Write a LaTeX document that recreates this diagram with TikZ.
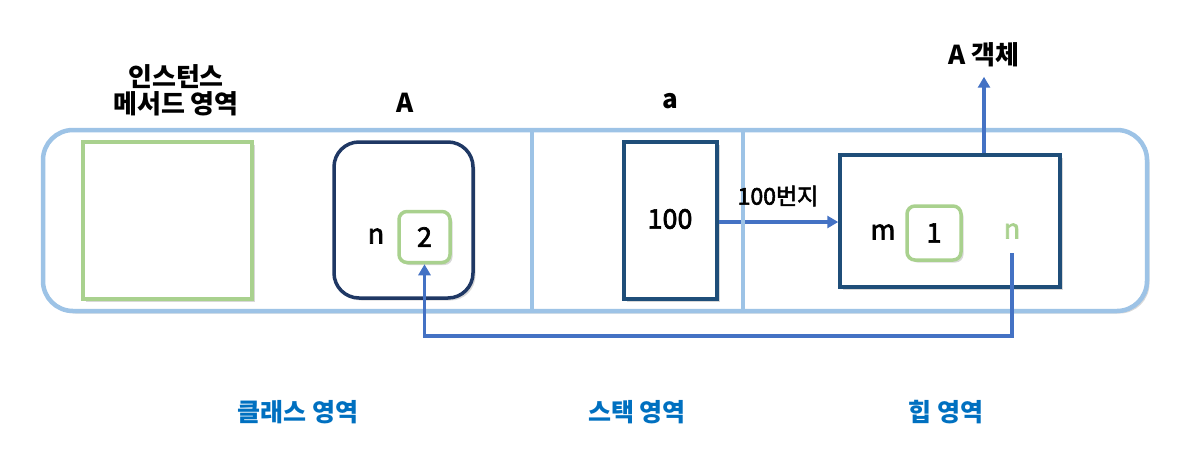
\documentclass[tikz,border=0pt]{standalone}
\usepackage{fontspec}
\setmainfont{Noto Sans CJK KR}
\newfontfamily\krmed[FakeBold=2.5]{Noto Sans CJK KR}
\usetikzlibrary{arrows.meta,shadows}
\definecolor{outerblue}{HTML}{9DC3E6}
\definecolor{softgreen}{HTML}{A9D18E}
\definecolor{navy}{HTML}{1F3864}
\definecolor{boxblue}{HTML}{1F4E79}
\definecolor{arrowblue}{HTML}{4472C4}
\definecolor{labelblue}{HTML}{0070C0}
\tikzset{
  shad/.style={drop shadow={opacity=0.3,shadow xshift=2.5pt,shadow yshift=-2.5pt}},
  areabox/.style={draw=outerblue,line width=4.5pt,fill=white,rounded corners=30pt,shad},
  divider/.style={draw=outerblue,line width=4.5pt},
  greenbox/.style={draw=softgreen,line width=3.5pt,fill=white,shad},
  valbox/.style={draw=softgreen,line width=3.5pt,fill=white,rounded corners=8pt,shad,
    minimum width=51pt,minimum height=51pt,font=\krmed\fontsize{27}{30}\selectfont},
  classbox/.style={draw=navy,line width=3.5pt,fill=white,rounded corners=25pt,shad},
  memobox/.style={draw=boxblue,line width=3.5pt,fill=white,shad},
  conn/.style={draw=arrowblue,line width=3.5pt,-{Triangle[length=11pt,width=12pt]}},
  toplabel/.style={font=\fontsize{26}{30}\selectfont\bfseries,align=center},
  inlabel/.style={font=\krmed\fontsize{27}{30}\selectfont},
  arealabel/.style={font=\fontsize{25}{30}\selectfont\bfseries,text=labelblue},
}
\begin{document}
\begin{tikzpicture}[x=1pt,y=-1pt]
\useasboundingbox (0,0) rectangle (1183,456);
% outer area
\node[areabox,minimum width=1104pt,minimum height=181pt] (outer) at (595,220.5) {};
% instance method area
\node[greenbox,minimum width=169pt,minimum height=157pt] (method) at (167.5,220.5) {};
\node[toplabel] (methodlbl) at (176,90) {인스턴스\\[-3pt]메서드 영역};
% class A
\node[classbox,minimum width=139pt,minimum height=156pt] (classA) at (403.5,220) {};
\node[toplabel] (Albl) at (405,103) {A};
\node[inlabel] (nA) at (376,236) {n};
\node[valbox] (two) at (424.5,237) {2};
% stack
\node[memobox,minimum width=93pt,minimum height=157pt] (stack) at (670.5,220.5) {};
\node[inlabel] (hundred) at (670,219) {100};
\node[toplabel] (albl) at (670,101) {a};
% heap object
\node[memobox,minimum width=220pt,minimum height=132pt] (heap) at (950,221) {};
\node[inlabel] (m) at (883,232) {m};
\node[valbox,minimum width=54pt,minimum height=54pt] (one) at (934,233) {1};
\node[inlabel,text=softgreen] (nH) at (1012,231) {n};
\node[toplabel] (objlbl) at (984,55) {A 객체};
\coordinate (nstart) at (1012,253);
% connectors
\draw[conn] (stack.east |- 0,222) -- (heap.west |- 0,222);
\draw[conn] (heap.north -| objlbl) -- ([yshift=-6pt]objlbl.south);
\draw[conn] (nstart) -- (1012,336) -| (two.south);
% dividers
\draw[divider] (532,130) -- (532,311);
\draw[divider] (743,130) -- (743,311);
\node[font=\krmed\fontsize{23}{26}\selectfont] (addr) at (778,196) {100번지};
% area labels
\node[arealabel] (clsarea) at (298,412) {클래스 영역};
\node[arealabel] (stkarea) at (637,412) {스택 영역};
\node[arealabel] (heaparea) at (946,412) {힙 영역};
\end{tikzpicture}
\end{document}
